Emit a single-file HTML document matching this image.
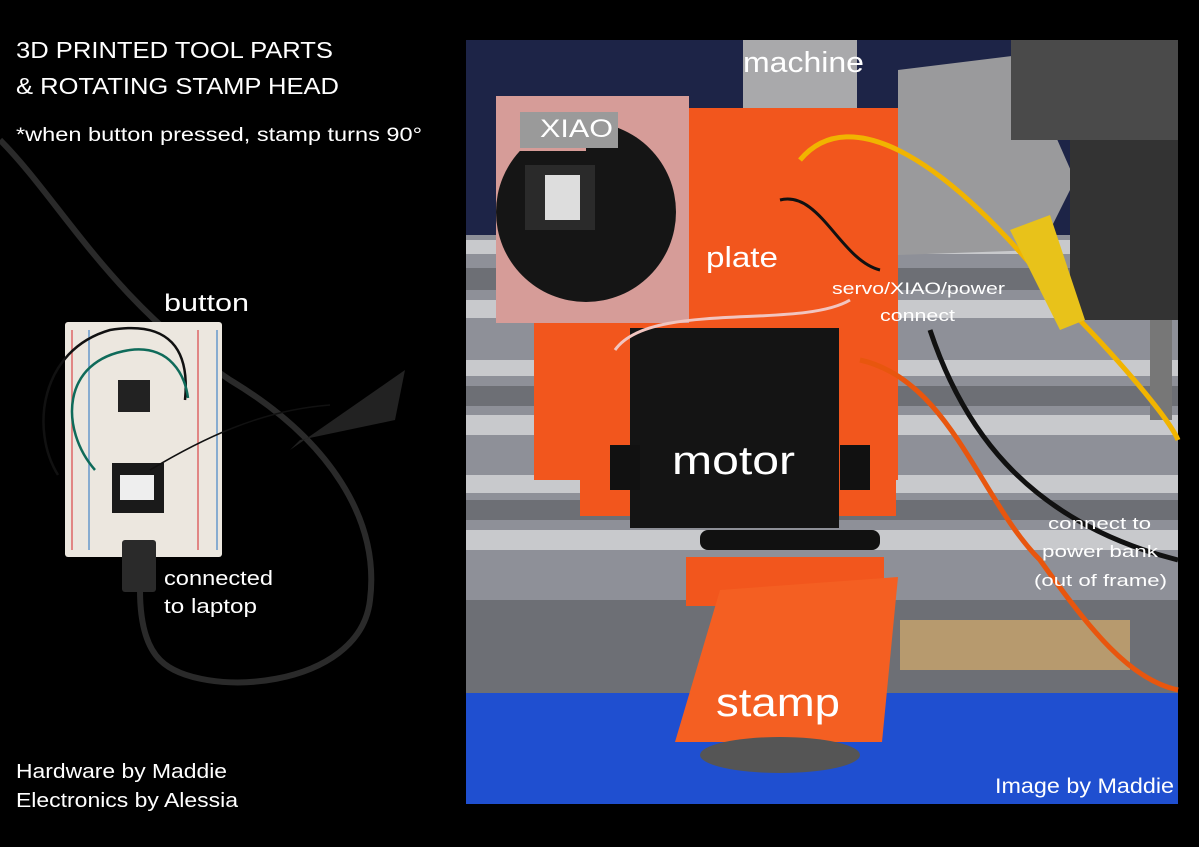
<!DOCTYPE html>
<html><head><meta charset="utf-8"><style>
html,body{margin:0;padding:0;background:#000;}
svg{display:block}
text{font-family:"Liberation Sans",sans-serif;fill:#fff}
</style></head><body>
<svg width="1199" height="847" viewBox="0 0 1199 847" xmlns="http://www.w3.org/2000/svg">
<rect width="1199" height="847" fill="#000"/>
<text x="16" y="58" font-size="23" textLength="317" lengthAdjust="spacingAndGlyphs">3D PRINTED TOOL PARTS</text>
<text x="16" y="94" font-size="23" textLength="323" lengthAdjust="spacingAndGlyphs">&amp; ROTATING STAMP HEAD</text>
<text x="16" y="141" font-size="19" textLength="406" lengthAdjust="spacingAndGlyphs">*when button pressed, stamp turns 90°</text>
<text x="164" y="311" font-size="24" textLength="85" lengthAdjust="spacingAndGlyphs">button</text>
<text x="164" y="585" font-size="20" textLength="109" lengthAdjust="spacingAndGlyphs">connected</text>
<text x="164" y="613" font-size="20" textLength="93" lengthAdjust="spacingAndGlyphs">to laptop</text>
<text x="16" y="778" font-size="20" textLength="211" lengthAdjust="spacingAndGlyphs">Hardware by Maddie</text>
<text x="16" y="807" font-size="20" textLength="222" lengthAdjust="spacingAndGlyphs">Electronics by Alessia</text>
<!-- cable -->
<path d="M0,140 C60,200 110,300 230,380 C330,440 380,520 370,600 C360,690 200,700 160,660 C140,640 140,600 140,590" fill="none" stroke="#2a2a2a" stroke-width="6"/>
<!-- breadboard -->
<rect x="65" y="322" width="157" height="235" rx="3" fill="#ece7df"/>
<line x1="72" y1="330" x2="72" y2="550" stroke="#d66" stroke-width="1.5"/>
<line x1="89" y1="330" x2="89" y2="550" stroke="#69c" stroke-width="1.5"/>
<line x1="198" y1="330" x2="198" y2="550" stroke="#d66" stroke-width="1.5"/>
<line x1="217" y1="330" x2="217" y2="550" stroke="#69c" stroke-width="1.5"/>
<rect x="118" y="380" width="32" height="32" fill="#222"/>
<rect x="112" y="463" width="52" height="50" fill="#1a1a1a"/>
<rect x="120" y="475" width="34" height="25" fill="#eee"/>
<rect x="122" y="540" width="34" height="52" rx="3" fill="#2a2a2a"/>
<path d="M58,475 C30,430 40,350 110,330 C170,320 190,350 185,400" fill="none" stroke="#111" stroke-width="2.5"/>
<path d="M95,470 C60,430 60,360 130,350 C170,345 185,375 188,398" fill="none" stroke="#0f6b5a" stroke-width="2.5"/>
<path d="M150,470 C200,440 260,410 330,405" fill="none" stroke="#111" stroke-width="1.5"/>
<polygon points="290,450 405,370 395,420 300,440" fill="#222"/>
<!-- photo -->
<rect x="466" y="40" width="712" height="764" fill="#8e9098"/>
<rect x="466" y="40" width="712" height="195" fill="#1d2447"/>
<g fill="#c8c9cc">
<rect x="466" y="240" width="712" height="14"/><rect x="466" y="300" width="712" height="18"/>
<rect x="466" y="360" width="712" height="16"/><rect x="466" y="415" width="712" height="20"/>
<rect x="466" y="475" width="712" height="18"/><rect x="466" y="530" width="712" height="20"/>
</g>
<g fill="#6d6f75">
<rect x="466" y="268" width="712" height="22"/><rect x="466" y="386" width="712" height="20"/><rect x="466" y="500" width="712" height="20"/><rect x="466" y="600" width="712" height="95"/>
</g>
<rect x="900" y="620" width="230" height="50" fill="#b79a6e"/>
<rect x="466" y="693" width="712" height="111" fill="#1f4fd0"/>
<rect x="743" y="40" width="114" height="72" fill="#a9a9ab"/>
<polygon points="898,70 1020,55 1075,180 1040,250 898,255" fill="#9a9a9c"/>
<rect x="1011" y="40" width="167" height="100" fill="#4a4a4a"/>
<rect x="1070" y="140" width="108" height="180" fill="#333"/>
<rect x="1150" y="320" width="22" height="100" fill="#777"/>
<!-- plate -->
<polygon points="673,108 898,108 898,480 534,480 534,300 673,300" fill="#f2561d"/>
<rect x="496" y="96" width="193" height="227" fill="#d69c98"/>
<circle cx="586" cy="212" r="90" fill="#151515"/>
<rect x="496" y="96" width="90" height="55" fill="#d69c98"/>
<rect x="520" y="112" width="98" height="36" fill="#9a9a9a"/>
<rect x="525" y="165" width="70" height="65" fill="#2a2a2a"/>
<rect x="545" y="175" width="35" height="45" fill="#ddd"/>
<!-- bracket & motor -->
<rect x="580" y="479" width="316" height="37" fill="#f2561d"/>
<rect x="630" y="328" width="209" height="200" fill="#141414"/>
<rect x="610" y="445" width="30" height="45" fill="#111"/>
<rect x="840" y="445" width="30" height="45" fill="#111"/>
<rect x="700" y="530" width="180" height="20" rx="8" fill="#111"/>
<rect x="686" y="557" width="198" height="49" fill="#f2561d"/>
<polygon points="720,590 898,577 882,742 675,742" fill="#f45f22"/>
<ellipse cx="780" cy="755" rx="80" ry="18" fill="#555"/>
<!-- wires -->
<path d="M800,160 C850,100 950,160 1060,300 C1120,360 1170,420 1178,440" fill="none" stroke="#f1b400" stroke-width="5"/>
<path d="M860,360 C950,380 980,500 1040,560 C1090,630 1130,680 1178,690" fill="none" stroke="#e8560e" stroke-width="5"/>
<path d="M930,330 C960,420 1020,520 1178,560" fill="none" stroke="#111" stroke-width="5"/>
<path d="M780,200 C820,190 840,260 880,270" fill="none" stroke="#111" stroke-width="3"/>
<path d="M615,350 C650,300 800,330 850,300" fill="none" stroke="#f1c5c0" stroke-width="3"/>
<polygon points="1010,230 1050,215 1085,320 1060,330" fill="#e8c21a"/>
<!-- photo labels -->
<text x="743" y="72" font-size="29" textLength="121" lengthAdjust="spacingAndGlyphs">machine</text>
<text x="540" y="137" font-size="25" textLength="73" lengthAdjust="spacingAndGlyphs">XIAO</text>
<text x="706" y="267" font-size="29" textLength="72" lengthAdjust="spacingAndGlyphs">plate</text>
<text x="832" y="294" font-size="17" textLength="173" lengthAdjust="spacingAndGlyphs">servo/XIAO/power</text>
<text x="880" y="321" font-size="17" textLength="75" lengthAdjust="spacingAndGlyphs">connect</text>
<text x="672" y="474" font-size="40" textLength="123" lengthAdjust="spacingAndGlyphs">motor</text>
<text x="1048" y="529" font-size="17" textLength="103" lengthAdjust="spacingAndGlyphs">connect to</text>
<text x="1042" y="557" font-size="17" textLength="116" lengthAdjust="spacingAndGlyphs">power bank</text>
<text x="1034" y="586" font-size="17" textLength="133" lengthAdjust="spacingAndGlyphs">(out of frame)</text>
<text x="716" y="716" font-size="40" textLength="124" lengthAdjust="spacingAndGlyphs">stamp</text>
<text x="995" y="793" font-size="21" textLength="179" lengthAdjust="spacingAndGlyphs">Image by Maddie</text>
</svg>
</body></html>
